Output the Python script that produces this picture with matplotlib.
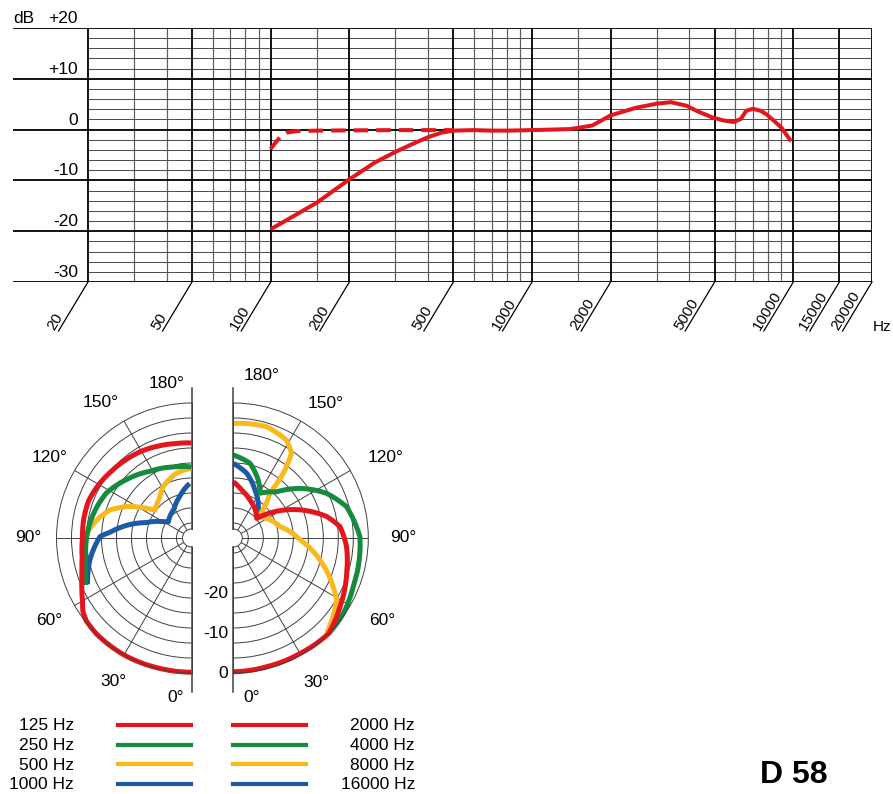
import numpy as np
import matplotlib.pyplot as plt
from matplotlib import transforms

plt.rcParams['font.family'] = ['Liberation Sans', 'DejaVu Sans']

W, H = 893, 794

RED = '#e4161d'
GREEN = '#148b3d'
YELLOW = '#f9b91b'
BLUE = '#1c5aa8'

# on-axis frequency response, solid = far field, dashed = close talking
resp_hz = [100, 110, 150, 200, 250, 300, 350, 400, 450, 500, 600, 700, 800, 1000,
           1400, 1700, 2000, 2500, 3000, 3400, 3900, 4300, 4900, 5400, 5900, 6300,
           6600, 7000, 7500, 7900, 8400, 9000, 9800]
resp_db = [-19.6, -18.4, -14.4, -9.8, -6.5, -4.4, -2.8, -1.5, -0.6, -0.2, -0.1, -0.2,
           -0.2, -0.1, 0.1, 0.8, 2.8, 4.3, 5.1, 5.4, 4.7, 3.6, 2.4, 1.8, 1.5, 2.1,
           3.7, 4.1, 3.7, 3.0, 1.8, 0.4, -2.3]
near_hz = [100, 105, 110, 115, 125, 150, 200, 300, 400, 500]
near_db = [-3.8, -2.4, -1.2, -0.6, -0.3, -0.2, -0.15, -0.1, -0.1, -0.1]

grid_hz = [20, 30, 40, 50, 60, 70, 80, 90, 100, 150, 200, 300, 400, 500, 600, 700,
           800, 900, 1000, 1500, 2000, 3000, 4000, 5000, 6000, 7000, 8000, 9000,
           10000, 15000, 20000]
tick_hz = [20, 50, 100, 200, 500, 1000, 2000, 5000, 10000, 15000, 20000]
tick_txt = ['20', '50', '100', '200', '500', '1000', '2000', '5000', '10000',
            '15000', '20000']
db_ticks = [20, 10, 0, -10, -20, -30]
db_txt = ['+20', '+10', '0', '-10', '-20', '-30']

# polar patterns: angle (deg) and level (dB)
p125_deg = [0, 15, 30, 45, 52, 56, 60, 65, 70, 75, 80, 90, 100, 110, 120, 130, 140,
            150, 160, 170, 180]
p125_db = [-0.2, -0.2, 0.0, 0.0, -0.3, -1.0, -2.3, -3.5, -4.6, -5.4, -6.0, -6.5,
           -6.4, -6.4, -7.0, -7.7, -8.2, -8.7, -9.3, -9.8, -10.0]
p250_deg = [66, 70, 75, 80, 90, 100, 110, 118, 132, 148, 165, 180]
p250_db = [-4.8, -5.5, -6.3, -6.9, -7.5, -8.2, -9.0, -9.7, -11.9, -14.1, -15.4, -16.0]
p500_deg = [93, 103, 109, 116, 123.5, 127.5, 141, 151, 167, 180]
p500_db = [-7.6, -10.3, -12.2, -15.8, -20.3, -22.3, -21.0, -19.1, -17.1, -16.3]
p1000_deg = [66, 78, 83, 91, 94, 101, 109, 120, 125, 149, 164, 178]
p1000_db = [-5.3, -7.8, -9.0, -10.9, -13.3, -17.2, -21.9, -25.6, -26.7, -25.3, -23.0,
            -20.1]

p2000_deg = [0, 15, 30, 45, 57, 73, 86, 96, 103, 113, 123, 130, 156, 170, 180]
p2000_db = [-0.3, -0.5, -0.4, 0.0, -2.0, -4.1, -5.4, -6.9, -9.8, -15.7, -21.8, -26.1,
            -23.4, -21.6, -19.7]
p4000_deg = [45, 55.6, 68, 80, 90.6, 105.5, 115.6, 126.7, 136.9, 149.1, 156.7, 167.4, 180]
p4000_db = [0.0, -0.4, -1.4, -1.8, -2.1, -4.4, -7.9, -13.0, -18.0, -20.7, -18.0, -14.6,
            -13.0]
p8000_deg = [44.4, 59, 64, 75.8, 88.3, 103.6, 130.4, 140.6, 142.3, 145.5, 151.5, 163.3, 180]
p8000_db = [-0.4, -3.6, -6.0, -11.4, -17.0, -21.7, -25.5, -19.3, -13.3, -8.0, -5.9, -4.7,
            -5.1]
p16000_deg = [134.6, 141.4, 155.7, 168.4, 180]
p16000_db = [-25.0, -23.7, -20.6, -17.2, -15.1]

left_names = ['125 Hz', '250 Hz', '500 Hz', '1000 Hz']
right_names = ['2000 Hz', '4000 Hz', '8000 Hz', '16000 Hz']
colors = [RED, GREEN, YELLOW, BLUE]


def px_box(x0, y0, w, h):
    return [x0 / W, 1 - (y0 + h) / H, w / W, h / H]


fig = plt.figure(figsize=(W / 100, H / 100), dpi=100)

# ---------------- frequency response ----------------
ax = fig.add_axes(px_box(13, 28, 859, 254))
ax.set_xscale('log')
px_dec = (872 - 88) / 3.0
x_left = 20 / 10 ** (75 / px_dec)
ax.set_xlim(x_left, 20000)
ax.set_ylim(-30, 20)
ax.axis('off')

for v in range(-28, 20, 2):
    if v % 10:
        ax.hlines(v, 20, 20000, color='#505050', lw=0.75)
for f in grid_hz:
    major = f in tick_hz
    ax.vlines(f, -30, 20, color='black' if major else '#5a5a5a',
              lw=1.3 if major else 0.85)
for v in db_ticks:
    ax.hlines(v, x_left, 20000, color='black', lw=1.3)

ax.plot(near_hz, near_db, color=RED, lw=2.9, ls=(0, (3.6, 2.0)))
ax.plot(resp_hz, resp_db, color=RED, lw=2.9, solid_capstyle='butt',
        solid_joinstyle='round')

# slanted tick strokes with labels along them
sl_dec = 29.5 / px_dec
sl_db = 49 / 5.08
for f, t in zip(tick_hz, tick_txt):
    ax.plot([f, f / 10 ** sl_dec], [-30, -30 - sl_db], color='black', lw=0.9,
            clip_on=False)
    ax.text(f / 10 ** (sl_dec + 4 / px_dec), -30 - sl_db, t, rotation=59,
            rotation_mode='anchor', ha='left', va='baseline', fontsize=11,
            clip_on=False)

ytrans = transforms.blended_transform_factory(ax.transAxes, ax.transData)
for v, t in zip(db_ticks, db_txt):
    ax.text((78 - 13) / 859, v + 1.0, t, transform=ytrans, ha='right',
            va='baseline', fontsize=12.5)
ax.text(0.0, 21.0, 'dB', transform=ytrans, ha='left', va='baseline', fontsize=12.5)
fig.text(882 / W, 1 - 327 / H, 'Hz', ha='center', va='center', fontsize=11)

# ---------------- polar diagrams ----------------
r_origin = -33.75
r_min = -31.5
ring_db = [-3.75, -7.5, -11.25, -15, -18.75, -22.5, -26.25, -30]
spoke_deg = [30, 60, 90, 120, 150]
GRID = '#404040'


def polar_half(x0, direction):
    pa = fig.add_axes(px_box(x0, 403, 270, 270), projection='polar')
    pa.set_theta_zero_location('S')
    pa.set_theta_direction(direction)
    pa.set_thetamin(0)
    pa.set_thetamax(180)
    pa.set_ylim(r_min, 0)
    pa.set_rorigin(r_origin)
    pa.set_xticks(np.deg2rad(spoke_deg))
    pa.set_yticks(ring_db)
    pa.set_xticklabels([])
    pa.set_yticklabels([])
    pa.tick_params(length=0)
    pa.grid(True, color=GRID, linewidth=0.7)
    pa.patch.set_facecolor('none')
    for s in pa.spines.values():
        s.set_color(GRID)
        s.set_linewidth(0.7)
    # straight edge runs a bit past the outer ring
    pa.plot([np.pi, np.pi], [r_min, 3.75], color=GRID, lw=1.1, clip_on=False)
    pa.plot([0, 0], [r_min, 4.75], color=GRID, lw=1.1, clip_on=False)
    return pa


pl = polar_half(191.5 - 0.75 * 270, -1)
pr = polar_half(233.3 - 0.25 * 270, 1)

left_curves = [(p1000_deg, p1000_db, BLUE), (p500_deg, p500_db, YELLOW),
               (p250_deg, p250_db, GREEN), (p125_deg, p125_db, RED)]
right_curves = [(p16000_deg, p16000_db, BLUE), (p8000_deg, p8000_db, YELLOW),
                (p4000_deg, p4000_db, GREEN), (p2000_deg, p2000_db, RED)]
for pa, curves in ((pl, left_curves), (pr, right_curves)):
    for deg, db, c in curves:
        ln, = pa.plot(np.deg2rad(deg), db, color=c, lw=3.6, solid_capstyle='butt',
                      solid_joinstyle='round', clip_on=False)
        # follow the polar grid between samples instead of straight chords
        ln.get_path()._interpolation_steps = 30

ang_txt = ['180°', '150°', '120°', '90°', '60°', '30°', '0°']
left_pos = [(171, 5.45), (146, 7.0), (119.5, 6.9), (90, 7.1), (60, 7.35),
            (28.6, 7.25), (5.5, 6.4)]
right_pos = [(170, 7.6), (145.5, 7.2), (118, 9.25), (90, 8.7), (61, 8.7),
             (30, 7.9), (6.7, 6.5)]
for pa, pos in ((pl, left_pos), (pr, right_pos)):
    for (a, r), t in zip(pos, ang_txt):
        pa.text(np.deg2rad(a), r, t, ha='center', va='center', fontsize=12.5,
                clip_on=False)

rtrans = transforms.offset_copy(pr.transData, fig=fig, x=-5, y=0, units='dots')
for v in [0, -10, -20]:
    pr.text(0, v, str(v), transform=rtrans, ha='right', va='center',
            fontsize=12.5, clip_on=False)

# ---------------- legend and model name ----------------
lg = fig.add_axes([0, 0, 1, 1])
lg.set_xlim(0, W)
lg.set_ylim(H, 0)
lg.axis('off')
for i, (ln_name, rn_name, c) in enumerate(zip(left_names, right_names, colors)):
    y = 725 + 19.5 * i
    lg.plot([118, 191], [y, y], color=c, lw=3)
    lg.plot([233, 306], [y, y], color=c, lw=3)
    lg.text(74, y + 1, ln_name, ha='right', va='center', fontsize=12.5)
    lg.text(415, y + 1, rn_name, ha='right', va='center', fontsize=12.5)
lg.text(794, 775, 'D 58', ha='center', va='center', fontsize=23, fontweight='bold')

fig.savefig('out.png', dpi=100)
